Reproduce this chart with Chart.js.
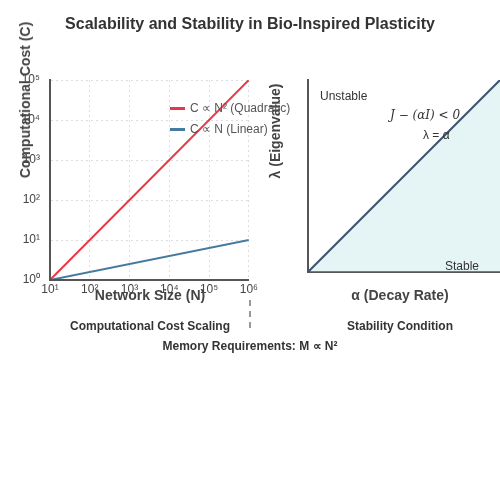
<!DOCTYPE html><html><head><meta charset="utf-8">
<script src="https://cdn.jsdelivr.net/npm/chart.js@4/dist/chart.umd.min.js"></script>
<style>
body{margin:0;width:500px;height:500px;background:#fff;font-family:"Liberation Sans",Arial,sans-serif;position:relative;overflow:hidden}
canvas{position:absolute}
.t{position:absolute;white-space:nowrap;color:#333}
</style></head><body>
<canvas id="c1" style="left:0;top:0;width:260px;height:300px" width="260" height="300"></canvas>
<canvas id="c2" style="left:250px;top:0;width:250px;height:300px" width="250" height="300"></canvas>
<div class="t" style="left:0;width:500px;top:15px;text-align:center;font-size:16px;font-weight:bold">Scalability and Stability in Bio-Inspired Plasticity</div>
<div class="t" style="left:25px;top:100px;transform:translate(-50%,-50%) rotate(-90deg);font-size:14px;font-weight:bold;color:#444">Computational Cost (C)</div>
<div class="t" style="left:150px;top:295px;transform:translate(-50%,-50%);font-size:14px;font-weight:bold;color:#444">Network Size (N)</div>
<div class="t" style="left:275px;top:131px;transform:translate(-50%,-50%) rotate(-90deg);font-size:14px;font-weight:bold;color:#444">λ (Eigenvalue)</div>
<div class="t" style="left:400px;top:295px;transform:translate(-50%,-50%);font-size:14px;font-weight:bold;color:#444">α (Decay Rate)</div>
<div class="t" style="left:150px;top:326px;transform:translate(-50%,-50%);font-size:12px;font-weight:bold">Computational Cost Scaling</div>
<div class="t" style="left:400px;top:326px;transform:translate(-50%,-50%);font-size:12px;font-weight:bold">Stability Condition</div>
<div class="t" style="left:250px;top:346px;transform:translate(-50%,-50%);font-size:12px;font-weight:bold">Memory Requirements: M ∝ N²</div>
<div style="position:absolute;left:249px;top:300px;height:28px;border-left:2px dashed #999"></div>
<div class="t" style="left:170px;top:101px;font-size:12px;color:#555"><span style="display:inline-block;width:15px;height:3px;background:#e63946;vertical-align:middle;margin-right:5px"></span>C ∝ N² (Quadratic)</div>
<div class="t" style="left:170px;top:122px;font-size:12px;color:#555"><span style="display:inline-block;width:15px;height:3px;background:#457b9d;vertical-align:middle;margin-right:5px"></span>C ∝ N (Linear)</div>
<div class="t" style="left:320px;top:89px;font-size:12px;color:#333">Unstable</div>
<div class="t" style="left:390px;top:108px;font-size:12px;font-style:italic;font-family:'DejaVu Serif',serif;color:#333">J − (αI) &lt; 0</div>
<div class="t" style="left:423px;top:128px;font-size:12px;color:#333">λ = α</div>
<div class="t" style="left:445px;top:259px;font-size:12px;color:#333">Stable</div>
<script>
const networkSize=[10,1e6];
const quadraticCost=[1,1e5];
const linearCost=[1,10];
const xTicks=[10,100,1e3,1e4,1e5,1e6];
const yTicks=[1,10,100,1e3,1e4,1e5];
const sup={0:'⁰',1:'¹',2:'²',3:'³',4:'⁴',5:'⁵',6:'⁶'};
const fmt=v=>'10'+sup[Math.round(Math.log10(v))];
const alpha=[0,1], lambda=[0,1];
new Chart(document.getElementById('c1'),{type:'line',
data:{datasets:[
{data:networkSize.map((x,i)=>({x,y:quadraticCost[i]})),borderColor:'#e63946',borderWidth:2,pointRadius:0},
{data:networkSize.map((x,i)=>({x,y:linearCost[i]})),borderColor:'#457b9d',borderWidth:2,pointRadius:0}]},
options:{responsive:false,animation:false,layout:{padding:{top:80,right:10,left:0,bottom:0}},
plugins:{legend:{display:false},tooltip:{enabled:false}},
scales:{
x:{type:'logarithmic',min:10,max:1e6,afterBuildTicks:s=>{s.ticks=xTicks.map(v=>({value:v}))},afterFit:s=>{s.height=20},
ticks:{callback:fmt,color:'#444',font:{size:12},padding:2,maxRotation:0,autoSkip:false},
grid:{color:'#ddd',tickLength:0,drawTicks:false},border:{color:'#555',width:2,dash:[2,3]}},
y:{type:'logarithmic',min:1,max:1e5,afterBuildTicks:s=>{s.ticks=yTicks.map(v=>({value:v}))},afterFit:s=>{s.width=50},
ticks:{callback:fmt,color:'#444',font:{size:12},padding:10,autoSkip:false},
grid:{color:'#ddd',drawTicks:false},border:{color:'#555',width:2,dash:[2,3]}}}},
plugins:[{id:'axes',afterDraw(c){const a=c.chartArea,x=c.ctx;x.save();x.strokeStyle='#555';x.lineWidth=2;x.beginPath();x.moveTo(a.left,a.top);x.lineTo(a.left,a.bottom);x.lineTo(a.right,a.bottom);x.stroke();x.restore();}}]
});
new Chart(document.getElementById('c2'),{type:'line',
data:{datasets:[{data:alpha.map((x,i)=>({x,y:lambda[i]})),borderColor:'#3d5170',borderWidth:2,pointRadius:0,fill:'start',backgroundColor:'rgba(168,218,220,0.3)'}]},
options:{responsive:false,animation:false,layout:{padding:{top:80,right:0,left:50,bottom:20}},
plugins:{legend:{display:false},tooltip:{enabled:false}},
scales:{x:{type:'linear',min:0,max:1,ticks:{display:false},grid:{display:false},border:{color:'#555',width:2}},
y:{type:'linear',min:0,max:1,ticks:{display:false},grid:{display:false},border:{color:'#555',width:2}}}}
});
</script></body></html>
